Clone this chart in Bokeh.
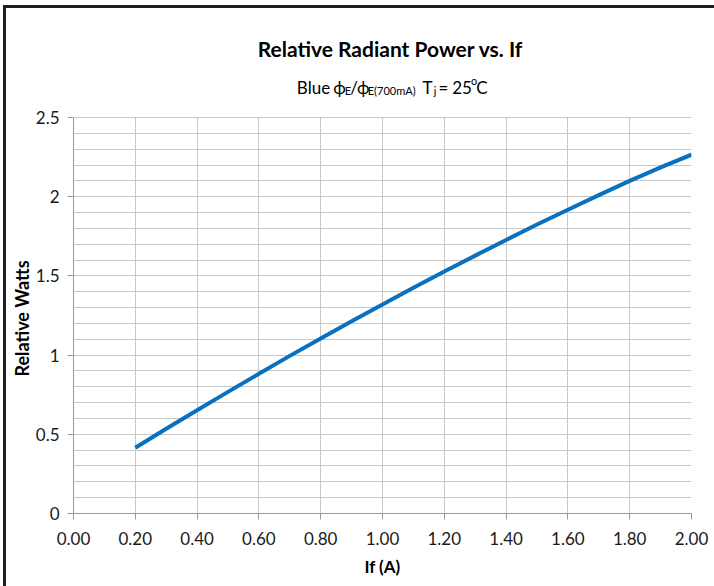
from bokeh.plotting import figure
from bokeh.models import Range1d, FixedTicker, NumeralTickFormatter, Title
from bokeh.core.properties import value
from bokeh.embed import file_html
from bokeh.resources import INLINE

# ---- data ----
if_amps = [0.2, 0.3, 0.4, 0.5, 0.6, 0.7, 0.8, 0.9, 1.0, 1.1, 1.2, 1.3, 1.4, 1.5, 1.6, 1.7, 1.8, 1.9, 2.0]
rel_watts = [0.415, 0.535, 0.652, 0.768, 0.882, 0.995, 1.105, 1.213, 1.32, 1.425, 1.528, 1.628,
             1.727, 1.824, 1.918, 2.010, 2.100, 2.185, 2.265]
x_ticks = [0.0, 0.2, 0.4, 0.6, 0.8, 1.0, 1.2, 1.4, 1.6, 1.8, 2.0]
y_ticks = [0.0, 0.5, 1.0, 1.5, 2.0, 2.5]
y_minor = [0.1, 0.2, 0.3, 0.4, 0.6, 0.7, 0.8, 0.9, 1.1, 1.2, 1.3, 1.4, 1.6, 1.7, 1.8, 1.9,
           2.1, 2.2, 2.3, 2.4]

title_text = "Relative Radiant Power vs. If"
x_label = "If (A)"
y_label = "Relative Watts"

FONT = "Lato"
GRID = "#c8c8c8"
AXIS = "#9a9a9a"

# page geometry (px). Canvas starts at x=6, y=8 (after a 3px frame line)
X0, Y0, W, H = 6, 8, 708, 578
PLOT_L, PLOT_R, PLOT_T, PLOT_B = 73, 691, 117, 513   # gridded area
FRAME_T = 20                                          # frame extends up to hold the titles
X_MAX, Y_MAX = x_ticks[-1], y_ticks[-1]


def px2x(px):
    return (px - PLOT_L) / (PLOT_R - PLOT_L) * X_MAX


def py2y(py):
    return (PLOT_B - py) / (PLOT_B - PLOT_T) * Y_MAX


p = figure(frame_width=PLOT_R - PLOT_L, frame_height=PLOT_B - FRAME_T,
           output_backend="svg", toolbar_location=None,
           x_range=Range1d(0, X_MAX), y_range=Range1d(0, py2y(FRAME_T)),
           min_border_left=PLOT_L - X0, min_border_right=X0 + W - PLOT_R,
           min_border_top=FRAME_T - Y0, min_border_bottom=Y0 + H - PLOT_B)
p.styles = {"margin-left": "3px", "margin-top": "5px",
            "border-left": "3px solid #1e1e1e", "border-top": "3px solid #1e1e1e"}
p.outline_line_color = None

p.line(if_amps, rel_watts, line_width=4, line_color="#0a70c0", line_join="round")

# axes
p.xaxis.ticker = FixedTicker(ticks=x_ticks)
p.yaxis.ticker = FixedTicker(ticks=y_ticks, minor_ticks=y_minor)
p.yaxis.bounds = (0, Y_MAX)
p.xaxis.formatter = NumeralTickFormatter(format="0.00")
p.yaxis.formatter = NumeralTickFormatter(format="0.[0]")
for ax in (p.xaxis[0], p.yaxis[0]):
    ax.axis_line_color = AXIS
    ax.major_tick_line_color = AXIS
    ax.major_tick_out = 6
    ax.major_tick_in = 0
    ax.minor_tick_out = 0
    ax.minor_tick_in = 0
    ax.major_label_text_font = FONT
    ax.major_label_text_font_size = "17px"
    ax.major_label_text_color = "#1a1a1a"
p.xaxis.axis_label = x_label
p.xaxis.axis_label_text_font = FONT
p.xaxis.axis_label_text_font_style = "bold"
p.xaxis.axis_label_text_color = "#000000"
p.xaxis.axis_label_text_font_size = "17px"
p.xaxis.major_label_standoff = 12
p.yaxis.major_label_standoff = 8
p.xaxis.axis_label_standoff = 8

# y axis title: a left-side Title so it can be centred on the gridded area,
# not on the taller frame (text starts at frame bottom - offset)
p.add_layout(Title(text=y_label, align="left", offset=PLOT_B - 376, standoff=0,
                   text_font=FONT, text_font_style="bold", text_font_size="18px",
                   text_color="#000000"), "left")

# grids
p.xgrid.grid_line_color = GRID
p.ygrid.grid_line_color = GRID
p.ygrid.minor_grid_line_color = GRID
p.xgrid.cross_bounds = (0, Y_MAX)

# ---- title + subtitle (text glyphs in the space above the grid) ----
p.text(x=[px2x(390)], y=[py2y(48)], text=[title_text], text_align="center",
       text_baseline="alphabetic", text_font=value(FONT), text_font_style="bold",
       text_font_size=value("21px"), text_color="#000000")

# subtitle pieces: (text, centre px, baseline px, size)
sub_pieces = [
    ("Blue", 313, 87, "17px"),
    ("\u03d5", 339, 87, "17px"),
    ("E", 347.4, 90, "11px"),
    ("/", 353.6, 87, "17px"),
    ("\u03d5", 362.7, 87, "17px"),
    ("E(700mA)", 391.2, 90, "11px"),
    ("T", 427, 87, "17px"),
    ("j", 434.5, 90, "11px"),
    ("=", 443, 87, "17px"),
    ("25", 461.5, 87, "17px"),
    ("o", 473.5, 80, "11px"),
    ("C", 481.5, 87, "17px"),
]
for txt, cx, by, fs in sub_pieces:
    p.text(x=[px2x(cx)], y=[py2y(by)], text=[txt], text_align="center",
           text_baseline="alphabetic", text_font=value(FONT), text_font_size=value(fs),
           text_color="#000000")

open("out.html", "w").write(file_html(p, INLINE))
